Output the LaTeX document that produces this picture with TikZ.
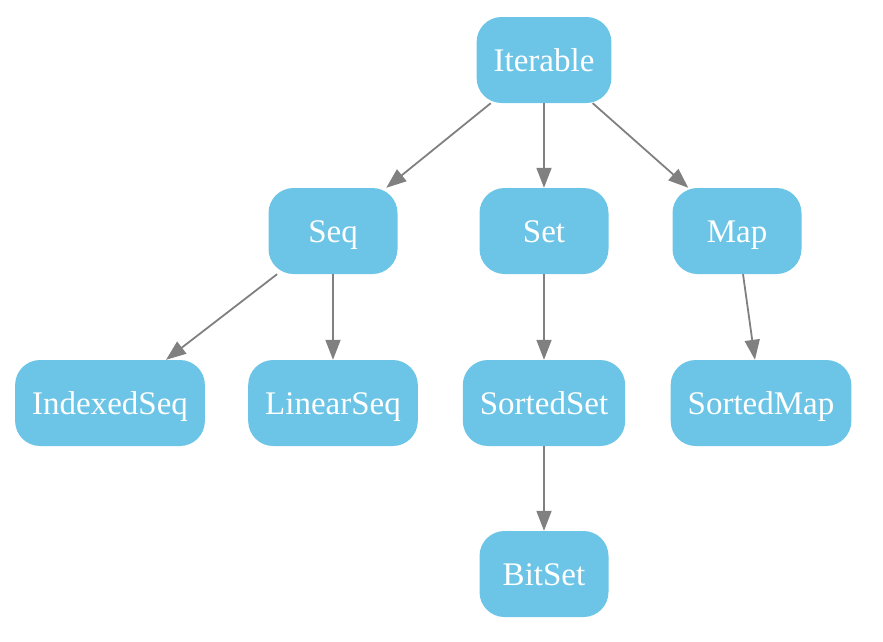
\documentclass[tikz,border=0pt]{standalone}
\usepackage{fontspec}
\setmainfont{Liberation Serif}
\usetikzlibrary{arrows.meta}
\definecolor{nodeblue}{HTML}{6CC5E6}
\definecolor{edgegray}{HTML}{808080}
\tikzset{
  cls/.style={rectangle, rounded corners=25pt, fill=nodeblue, text=white,
    font=\fontsize{33}{33}\selectfont, minimum height=86pt, minimum width=129pt,
    inner xsep=17pt, text height=25pt, text depth=3pt},
  edge/.style={draw=edgegray, line width=1.8pt, -{Triangle[length=20pt,width=15pt]}}
}
\begin{document}
\begin{tikzpicture}[x=1pt,y=1pt]
\useasboundingbox (0,0) rectangle (883,-641);
\node[cls] (it) at (544,-60) {Iterable};
\node[cls] (seq) at (333,-231) {Seq};
\node[cls] (set) at (544,-231) {Set};
\node[cls] (map) at (737,-231) {Map};
\node[cls] (iseq) at (110,-403) {IndexedSeq};
\node[cls] (lseq) at (333,-403) {LinearSeq};
\node[cls] (sset) at (544,-403) {SortedSet};
\node[cls] (smap) at (761,-403) {SortedMap};
\node[cls] (bset) at (544,-574) {BitSet};
\draw[edge] (it) -- (seq);
\draw[edge] (it) -- (set);
\draw[edge] (it) -- (map);
\draw[edge] (seq) -- (iseq);
\draw[edge] (seq) -- (lseq);
\draw[edge] (set) -- (sset);
\draw[edge] (map) -- (smap);
\draw[edge] (sset) -- (bset);
\end{tikzpicture}
\end{document}
